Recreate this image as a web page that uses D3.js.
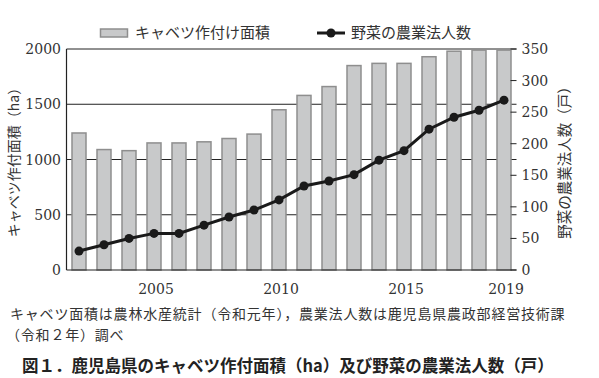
<!DOCTYPE html>
<html><head><meta charset="utf-8">
<script src="https://cdn.jsdelivr.net/npm/d3@7"></script>
<style>
html,body{margin:0;padding:0;background:#fff;}
svg{display:block;}
</style></head>
<body>
<svg id="c" width="599" height="378"></svg>
<script>
const years = [2002,2003,2004,2005,2006,2007,2008,2009,2010,2011,2012,2013,2014,2015,2016,2017,2018,2019];
const cabbageArea = [1240,1090,1080,1150,1150,1160,1190,1230,1450,1580,1660,1850,1870,1870,1930,1980,1990,1990];
const vegCorps = [30,40,50,58,58,71,84,95,111,133,141,151,174,189,223,242,253,269];
const leftTicks = [0,500,1000,1500,2000];
const rightTicks = [0,50,100,150,200,250,300,350];
const xTickYears = [2005,2010,2015,2019];
const legendBar = "キャベツ作付け面積";
const legendLine = "野菜の農業法人数";
const leftTitle = "キャベツ作付面積（ha）";
const rightTitle = "野菜の農業法人数（戸）";
const note1 = "キャベツ面積は農林水産統計（令和元年），農業法人数は鹿児島県農政部経営技術課";
const note2 = "（令和２年）調べ";
const figTitle = "図１．鹿児島県のキャベツ作付面積（ha）及び野菜の農業法人数（戸）";

const svg = d3.select("#c");
const L = 66.5, R = 516.5, T = 49, B = 270;
const serif = "'DejaVu Serif', serif";
const jp = "'Noto Sans CJK JP', sans-serif";

const x = d3.scaleBand().domain(years).range([L, R]).paddingInner(0.44).paddingOuter(0.22);
const yL = d3.scaleLinear().domain([0, 2000]).range([B, T]);
const yR = d3.scaleLinear().domain([0, 350]).range([B, T]);

// gridlines (behind bars)
svg.append("g").selectAll("line").data(leftTicks.filter(d => d > 0)).join("line")
  .attr("x1", L).attr("x2", R).attr("y1", d => yL(d)).attr("y2", d => yL(d))
  .attr("stroke", "#222").attr("stroke-width", 1);

// bars
svg.append("g").selectAll("rect").data(years).join("rect")
  .attr("x", d => x(d)).attr("width", x.bandwidth())
  .attr("y", (d, i) => yL(cabbageArea[i])).attr("height", (d, i) => B - yL(cabbageArea[i]))
  .attr("fill", "#c8c9ca").attr("stroke", "#8e8e8e").attr("stroke-width", 1.5);

// axes lines
svg.append("line").attr("x1", L).attr("x2", L).attr("y1", T).attr("y2", B).attr("stroke", "#222").attr("stroke-width", 1.2);
svg.append("line").attr("x1", L).attr("x2", R).attr("y1", B).attr("y2", B).attr("stroke", "#222").attr("stroke-width", 1.2);

// left axis labels
svg.append("g").selectAll("text").data(leftTicks).join("text")
  .attr("x", 61).attr("y", d => yL(d)).attr("dy", "0.36em")
  .attr("text-anchor", "end").attr("font-family", serif).attr("font-size", 14).attr("fill", "#333")
  .text(d => d);

// right axis ticks + labels
svg.append("g").selectAll("line").data(rightTicks).join("line")
  .attr("x1", R - 6).attr("x2", R).attr("y1", d => yR(d)).attr("y2", d => yR(d))
  .attr("stroke", "#222").attr("stroke-width", 1);
svg.append("g").selectAll("text").data(rightTicks).join("text")
  .attr("x", 521.5).attr("y", d => yR(d)).attr("dy", "0.36em")
  .attr("text-anchor", "start").attr("font-family", serif).attr("font-size", 14).attr("fill", "#333")
  .text(d => d);

// x axis labels
svg.append("g").selectAll("text").data(xTickYears).join("text")
  .attr("x", d => x(d) + x.bandwidth() / 2 + 2).attr("y", 294)
  .attr("text-anchor", "middle").attr("font-family", serif).attr("font-size", 14).attr("fill", "#333")
  .text(d => d);

// line
const pts = years.map((d, i) => [x(d) + x.bandwidth() / 2, yR(vegCorps[i])]);
svg.append("path").attr("d", d3.line()(pts)).attr("fill", "none").attr("stroke", "#1a1a1a").attr("stroke-width", 3);
svg.append("g").selectAll("circle").data(pts).join("circle")
  .attr("cx", d => d[0]).attr("cy", d => d[1]).attr("r", 4.5).attr("fill", "#1a1a1a");

// axis titles
svg.append("text").attr("transform", "translate(19,159) rotate(-90)")
  .attr("text-anchor", "middle").attr("font-family", jp).attr("font-size", 14).attr("fill", "#333")
  .text(leftTitle);
svg.append("text").attr("transform", "translate(570,159) rotate(-90)")
  .attr("text-anchor", "middle").attr("font-family", jp).attr("font-size", 14.5).attr("fill", "#333")
  .text(rightTitle);

// legend
svg.append("rect").attr("x", 100.5).attr("y", 29).attr("width", 27).attr("height", 8)
  .attr("fill", "#c8c9ca").attr("stroke", "#8e8e8e").attr("stroke-width", 1.5);
svg.append("text").attr("x", 135).attr("y", 33).attr("dy", "0.35em")
  .attr("font-family", jp).attr("font-size", 15).attr("fill", "#333").text(legendBar);
svg.append("line").attr("x1", 317).attr("x2", 345).attr("y1", 33).attr("y2", 33).attr("stroke", "#1a1a1a").attr("stroke-width", 3);
svg.append("circle").attr("cx", 331).attr("cy", 33).attr("r", 4.5).attr("fill", "#1a1a1a");
svg.append("text").attr("x", 351).attr("y", 33).attr("dy", "0.35em")
  .attr("font-family", jp).attr("font-size", 15).attr("fill", "#333").text(legendLine);

// notes
svg.append("text").attr("x", 10).attr("y", 314.5).attr("dy", "0.35em")
  .attr("font-family", jp).attr("font-size", 14).attr("letter-spacing", 0.8).attr("fill", "#333").text(note1);
svg.append("text").attr("x", 6).attr("y", 335.5).attr("dy", "0.35em")
  .attr("font-family", jp).attr("font-size", 14).attr("letter-spacing", 0.8).attr("fill", "#333").text(note2);
svg.append("text").attr("x", 22).attr("y", 366).attr("dy", "0.35em")
  .attr("font-family", jp).attr("font-size", 16.5).attr("font-weight", "bold").attr("fill", "#222").text(figTitle);
</script>
</body></html>
